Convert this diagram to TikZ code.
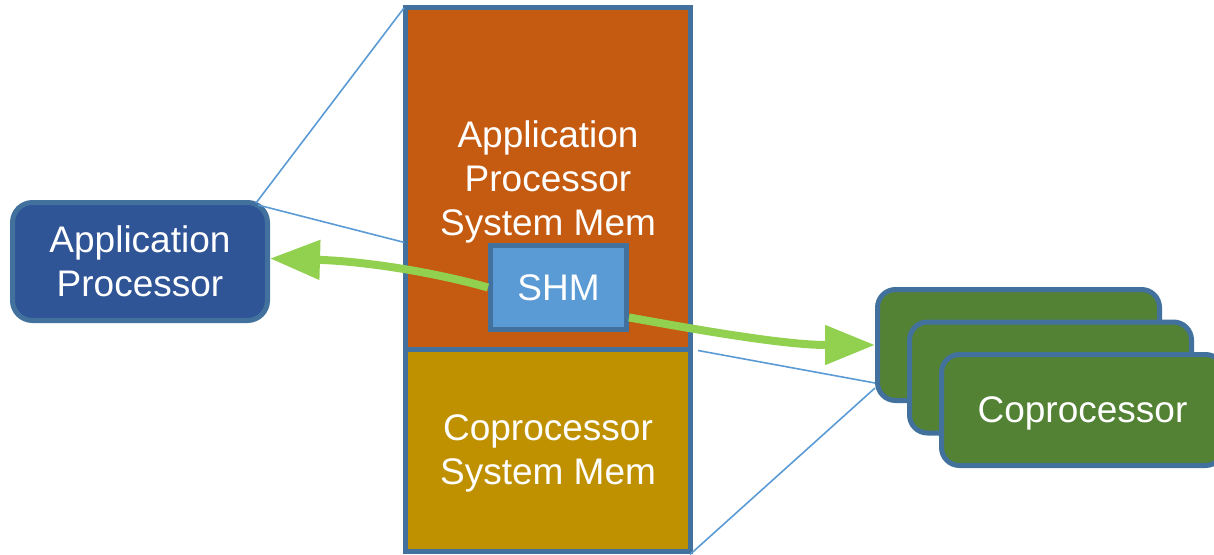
\documentclass[tikz,border=0pt]{standalone}
\usepackage{fontspec}
\setmainfont{Liberation Sans}
\usetikzlibrary{arrows.meta,calc}
\definecolor{boxline}{HTML}{41719C}
\definecolor{apblue}{HTML}{2F5597}
\definecolor{memorange}{HTML}{C55A11}
\definecolor{memgold}{HTML}{BF9000}
\definecolor{shmblue}{HTML}{5B9BD5}
\definecolor{copgreen}{HTML}{548235}
\definecolor{arrowgreen}{HTML}{92D050}
\tikzset{%
  box/.style = {
    draw = boxline, line width = 5pt, text = white, align = center,
    inner sep = 0pt, text depth = 0pt, font = \fontsize{37}{44}\selectfont,
  },
  proc box/.style = {
    box, rounded corners = 20pt,
    minimum width = 255pt, minimum height = 118pt,
  },
  cop box/.style = {
    box, fill = copgreen, rounded corners = 18pt,
    minimum width = 282pt, minimum height = 111pt,
  },
  mem box/.style = {
    box, minimum width = 285pt,
  },
  zoom line/.style = {
    draw = shmblue, line width = 1.6pt,
  },
  shm arrow/.style = {
    draw = arrowgreen, line width = 8pt,
    -{Triangle[length=50pt,width=38pt]},
  }
}

\begin{document}
\begin{tikzpicture}[x=1pt,y=-1pt]
\useasboundingbox (0,0) rectangle (1214,554);
\clip (0,0) rectangle (1214,554);
 \node[proc box, fill=apblue] (ap) at (140,261.5) {Application\\Processor};
 \node[mem box, fill=memorange, minimum height=341.5pt] (apmem) at (548,178.25)
   {Application\\Processor\\System Mem};
 \node[mem box, fill=memgold, minimum height=202pt] (copmem) at (548,450)
   {Coprocessor\\System Mem};
 \node[box, fill=shmblue, minimum width=136pt, minimum height=84pt] (shm) at (558.5,287.5) {SHM};
 \node[cop box] (cp1) at (1018.5,345) {};
 \node[cop box] (cp2) at (1050.5,377.5) {};
 \node[cop box] (cp3) at (1082.5,410) {Coprocessor};
% zoom lines
\draw[zoom line] ($(ap.north east)+(-14,3)$) -- ($(apmem.north west)+(1,3)$);
\draw[zoom line] ($(ap.north east)+(-12,5)$) -- ($(apmem.north west)!0.685!(apmem.south west)+(1,0)$);
\draw[zoom line] ($(copmem.north east)+(5,4)$) -- ($(cp1.south west)+(0,-20)$);
\draw[zoom line] ($(copmem.south east)+(-3,1)$) -- ($(cp1.south west)+(0,-15)$);
% shared memory arrows
\draw[shm arrow] (shm.west) .. controls (430,271) and (360,261) .. ($(ap.east)+(0,-3)$);
\draw[shm arrow] (shm.-23) .. controls (720,334) and (790,345) .. (cp1.west);
\end{tikzpicture}
\end{document}
